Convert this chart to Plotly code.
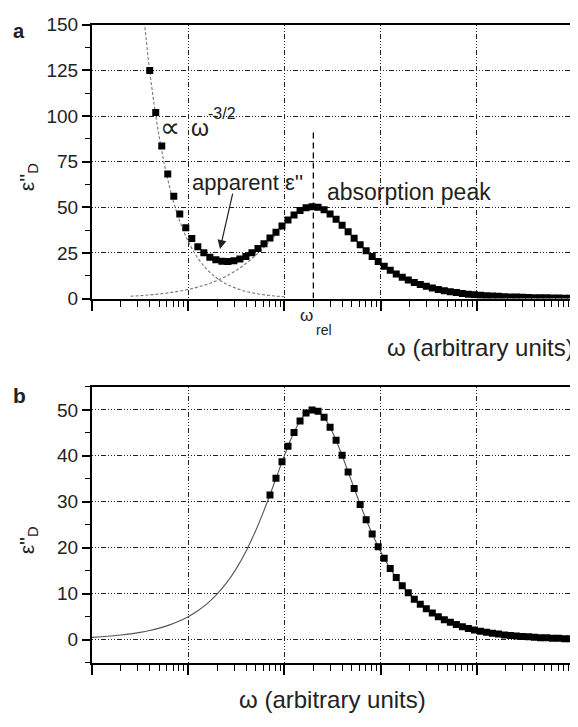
import plotly.graph_objects as go

# The page places the figure 8 px in from the top-left corner of the window,
# so the figure is made 8 px smaller and every reference pixel is shifted by 8.
OFF = 8
W, H = 578 - OFF, 727 - OFF

# ---------------- data ----------------
# panel a: measured points (power-law wing + absorption peak)
omega_sq_a = [3.981, 4.597, 5.309, 6.131, 7.079, 8.175, 9.441, 10.90, 12.59, 14.54,
              16.79, 19.39, 22.39, 25.85, 29.85, 34.47,
              39.81, 45.97, 53.09, 61.31, 70.79, 81.75, 94.41, 109.0, 125.9, 145.4,
              167.9, 193.9, 223.9, 258.5, 298.5, 344.7,
              398.1, 459.7, 530.9, 613.1, 707.9, 817.5, 944.1, 1090, 1259, 1454,
              1679, 1939, 2239, 2585, 2985, 3447,
              3981, 4597, 5309, 6131, 7079, 8175, 9441, 10900, 12590, 14540,
              16790, 19390, 22390, 25850, 29850, 34470,
              39810, 45970, 53090, 61310, 70790, 81750, 94410]
eps_sq_a = [125.0, 102.0, 83.6, 68.3, 56.1, 46.4, 38.8, 32.9, 28.4, 25.1,
            22.7, 21.2, 20.4, 20.3, 20.7, 21.7, 23.1, 25.1, 27.4, 30.1,
            33.2, 36.4, 39.7, 43.0, 45.8, 48.2, 49.7, 50.3, 50.0, 48.6,
            46.4, 43.5, 40.2, 36.6, 33.0, 29.5, 26.2, 23.1, 20.3, 17.7,
            15.5, 13.5, 11.7, 10.2, 8.8, 7.7, 6.7, 5.8, 5.0, 4.3,
            3.8, 3.3, 2.8, 2.4, 2.1, 1.8, 1.6, 1.4, 1.2, 1.0,
            0.9, 0.8, 0.7, 0.6, 0.5, 0.4, 0.4, 0.3, 0.3, 0.2, 0.2]

# panel a: power-law wing (dashed)
omega_pow = [3.162, 3.981, 5.012, 6.310, 7.943, 10.0, 12.59, 15.85, 19.95,
             25.12, 31.62, 39.81, 50.12, 63.10, 79.43, 100.0]
eps_pow = [176.0, 124.6, 88.2, 62.5, 44.2, 31.3, 22.2, 15.7, 11.1,
           7.86, 5.57, 3.94, 2.79, 1.98, 1.40, 0.99]

# panel a: absorption peak, low-frequency side (dashed)
omega_peak_a = [2.512, 3.162, 3.981, 5.012, 6.310, 7.943, 10.0, 12.59, 15.85,
                19.95, 25.12, 31.62, 39.81, 50.12, 63.10, 79.43, 100.0]
eps_peak_a = [1.26, 1.58, 1.99, 2.51, 3.16, 3.98, 5.00, 6.29, 7.89,
              9.90, 12.39, 15.46, 19.19, 23.63, 28.75, 34.36, 40.06]

omega_rel = 200.0
rel_line_top = 93.0

# panel b: corrected points
omega_sq_b = [70.79, 81.75, 94.41, 109.0, 125.9, 145.4,
              167.9, 193.9, 223.9, 258.5, 298.5, 344.7,
              398.1, 459.7, 530.9, 613.1, 707.9, 817.5, 944.1, 1090, 1259, 1454,
              1679, 1939, 2239, 2585, 2985, 3447,
              3981, 4597, 5309, 6131, 7079, 8175, 9441, 10900, 12590, 14540,
              16790, 19390, 22390, 25850, 29850, 34470,
              39810, 45970, 53090, 61310, 70790, 81750, 94410]
eps_sq_b = [31.5, 35.1, 38.7, 42.1, 45.1, 47.6, 49.3, 50.0, 49.7, 48.4,
            46.2, 43.4, 40.1, 36.5, 32.9, 29.4, 26.1, 23.0, 20.2, 17.7,
            15.5, 13.5, 11.7, 10.2, 8.8, 7.7, 6.7, 5.8, 5.0, 4.3,
            3.8, 3.3, 2.8, 2.4, 2.1, 1.8, 1.6, 1.4, 1.2, 1.0,
            0.9, 0.8, 0.7, 0.6, 0.5, 0.4, 0.4, 0.3, 0.3, 0.2, 0.2]

# panel b: fitted peak (solid)
omega_fit_b = [1.0, 1.259, 1.585, 1.995, 2.512, 3.162, 3.981, 5.012, 6.310, 7.943,
               10.0, 12.59, 15.85, 19.95, 25.12, 31.62, 39.81, 50.12, 63.10, 79.43,
               100.0, 125.9, 158.5, 199.5, 251.2, 316.2, 398.1, 501.2, 631.0, 794.3,
               1000, 1259, 1585, 1995, 2512, 3162, 3981, 5012, 6310, 7943,
               10000, 12590, 15850, 19950, 25120, 31620, 39810, 50120, 63100, 79430,
               100000]
eps_fit_b = [0.50, 0.63, 0.79, 1.00, 1.26, 1.58, 1.99, 2.51, 3.16, 3.98,
             5.00, 6.29, 7.89, 9.90, 12.39, 15.46, 19.19, 23.63, 28.75, 34.36,
             40.06, 45.13, 48.70, 50.0, 48.70, 45.13, 40.06, 34.36, 28.75, 23.63,
             19.19, 15.46, 12.39, 9.90, 7.89, 6.29, 5.00, 3.98, 3.16, 2.51,
             1.99, 1.58, 1.26, 1.00, 0.79, 0.63, 0.50, 0.40, 0.32, 0.25, 0.20]

y_ticks_a = [0, 25, 50, 75, 100, 125, 150]
y_ticks_b = [0, 10, 20, 30, 40, 50]
x_major = [1, 10, 100, 1000, 10000, 100000]
x_minor = [m * d for d in [1, 10, 100, 1000, 10000] for m in range(2, 10)]

# ---------------- figure ----------------
FONT = "Liberation Sans, Arial, Helvetica, sans-serif"
GRID_DASH = "1px,2px,1px,2px,1px,2px,5px,2px"

def px(xp):
    return (xp - OFF) / W

def py(yp):
    return 1 - (yp - OFF) / H

fig = go.Figure()

# panel a
fig.add_trace(go.Scatter(x=omega_pow, y=eps_pow, mode="lines", line_shape="spline",
                         line=dict(color="#777777", width=1.1, dash="3px,2px"),
                         xaxis="x", yaxis="y", showlegend=False))
fig.add_trace(go.Scatter(x=omega_peak_a, y=eps_peak_a, mode="lines", line_shape="spline",
                         line=dict(color="#777777", width=1.1, dash="3px,2px"),
                         xaxis="x", yaxis="y", showlegend=False))
fig.add_trace(go.Scatter(x=omega_sq_a, y=eps_sq_a, mode="markers",
                         marker=dict(symbol="square", size=7, color="black", line=dict(width=0)),
                         xaxis="x", yaxis="y", showlegend=False))

# panel b
fig.add_trace(go.Scatter(x=omega_fit_b, y=eps_fit_b, mode="lines", line_shape="spline",
                         line=dict(color="#555555", width=1.1),
                         xaxis="x2", yaxis="y2", showlegend=False))
fig.add_trace(go.Scatter(x=omega_sq_b, y=eps_sq_b, mode="markers",
                         marker=dict(symbol="square", size=7, color="black", line=dict(width=0)),
                         xaxis="x2", yaxis="y2", showlegend=False))

xdom = [px(92), px(573)]
common_x = dict(type="log", range=[0, 5], domain=xdom, showline=True, linecolor="black",
                linewidth=2, mirror=True, ticks="outside", ticklen=10, tickwidth=1.5,
                tickcolor="black", tickvals=x_major, showticklabels=False,
                showgrid=True, gridcolor="#222222", gridwidth=1, griddash=GRID_DASH,
                zeroline=False,
                minor=dict(tickvals=x_minor, ticks="outside", ticklen=6, tickwidth=1.2,
                           tickcolor="black", showgrid=False))
common_y = dict(showline=True, linecolor="black", linewidth=2, mirror=True,
                ticks="outside", ticklen=8, tickwidth=1.5, tickcolor="black",
                showgrid=True, gridcolor="#222222", gridwidth=1, griddash=GRID_DASH,
                zeroline=False, ticklabeloverflow="allow",
                tickfont=dict(family=FONT, size=19, color="#222222"))

fig.update_layout(
    width=W, height=H, margin=dict(l=0, r=0, t=0, b=0),
    paper_bgcolor="white", plot_bgcolor="white",
    font=dict(family=FONT, color="#222222"),
    xaxis=dict(common_x, anchor="y"),
    yaxis=dict(common_y, domain=[py(297), py(15)], range=[0, 150], tickvals=y_ticks_a,
               anchor="x",
               minor=dict(dtick=12.5, tick0=0, ticks="outside", ticklen=5, tickwidth=1.2,
                          tickcolor="black", showgrid=False)),
    xaxis2=dict(common_x, anchor="y2"),
    yaxis2=dict(common_y, domain=[py(672), py(388)], range=[-5, 55], tickvals=y_ticks_b,
                anchor="x2",
                minor=dict(dtick=5, tick0=0, ticks="outside", ticklen=5, tickwidth=1.2,
                           tickcolor="black", showgrid=False)),
)

# vertical dashed line at omega_rel
fig.add_shape(type="line", xref="x", yref="y", x0=omega_rel, x1=omega_rel,
              y0=0, y1=rel_line_top, line=dict(color="black", width=1.3, dash="6px,4px"))

ann = []
def txt(text, x, y, size, xanchor="center", yanchor="middle", angle=0, bold=False):
    ann.append(dict(text=("<b>%s</b>" % text) if bold else text, x=px(x), y=py(y),
                    xref="paper", yref="paper", showarrow=False, xanchor=xanchor,
                    yanchor=yanchor, textangle=angle, borderpad=0,
                    font=dict(family=FONT, size=size, color="#222222")))

txt("a", 19, 21, 20, bold=True)
txt("b", 19, 397, 21, bold=True)
txt("ε''<sub>D</sub>", 28, 172, 21, angle=-90)
txt("ε''<sub>D</sub>", 28, 546, 21, angle=-90)
txt("∝", 170, 121, 28)
txt("ω", 190, 121, 23, xanchor="left")
txt("-3/2", 207, 106, 16, xanchor="left")
txt("apparent ε''", 191, 177, 22, xanchor="left")
txt("absorption peak", 326, 187, 23, xanchor="left")
txt("ω", 306, 314, 17)
txt("rel", 324, 329, 14)
txt("ω (arbitrary units)", 575, 347, 24, xanchor="right")
txt("ω (arbitrary units)", 332, 710, 24)

# arrow from label to the minimum of the apparent loss
ann.append(dict(x=px(220), y=py(246), xref="paper", yref="paper", ax=13, ay=-57,
                text="", showarrow=True, arrowhead=2, arrowsize=1.5, arrowwidth=1.2,
                arrowcolor="#222222"))

fig.update_layout(annotations=ann)
fig.write_html("out.html")
